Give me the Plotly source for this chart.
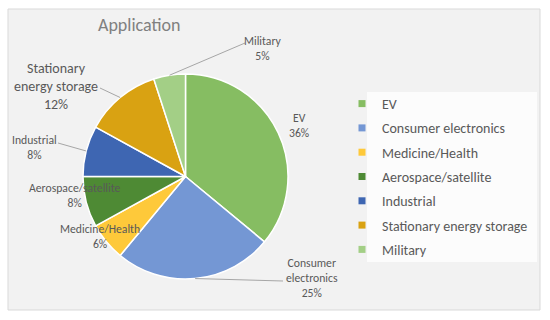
import math
import plotly.graph_objects as go

categories = ["EV", "Consumer electronics", "Medicine/Health", "Aerospace/satellite",
              "Industrial", "Stationary energy storage", "Military"]
shares = [36, 25, 6, 8, 8, 12, 5]
label_texts = ["EV", "Consumer<br>electronics", "Medicine/Health", "Aerospace/satellite",
               "Industrial", "Stationary<br>energy storage", "Military"]
colors = ["#86bd62", "#7497d4", "#fec93a", "#4e8a34", "#3e66b2", "#d9a212", "#a3cf86"]

W, H = 550, 320
CX, CY, R = 185.5, 176.5, 102.5
FONT = "Carlito, Lato, sans-serif"
TXT = "#595959"


def px(x, y):
    return x / W, 1 - y / H


# label layout (pixel positions of text block centres, optional leader elbow, font size)
label_layout = {
    "EV": dict(pos=(299, 125), elbow=None, size=11.7),
    "Consumer electronics": dict(pos=(312, 278), elbow=(283, 281), size=11.7),
    "Medicine/Health": dict(pos=(100, 236), elbow=None, size=11.7),
    "Aerospace/satellite": dict(pos=(74, 195.5), elbow=None, size=11.7),
    "Industrial": dict(pos=(35, 147.5), elbow=(58, 143), size=11.7),
    "Stationary energy storage": dict(pos=(56, 86), elbow=(100, 88), size=14),
    "Military": dict(pos=(263, 49), elbow=(245, 43), size=11.7),
}

fig = go.Figure()

x0, y0 = px(CX - R, CY + R)
x1, y1 = px(CX + R, CY - R)
fig.add_trace(go.Pie(
    labels=categories, values=shares, sort=False, direction="clockwise", rotation=0,
    marker=dict(colors=colors, line=dict(color="white", width=1.5)),
    textinfo="none", hoverinfo="label+percent", showlegend=False,
    domain=dict(x=[x0, x1], y=[y0, y1]),
))

for cat, col in zip(categories, colors):
    fig.add_trace(go.Scatter(
        x=[None], y=[None], mode="markers", name=cat, legendgroup=cat,
        marker=dict(symbol="square", size=7, color=col), showlegend=True,
    ))

shapes = [
    dict(type="rect", xref="paper", yref="paper",
         x0=px(8, 0)[0], x1=px(540, 0)[0], y0=px(0, 310)[1], y1=px(0, 9)[1],
         fillcolor="#f2f2f2", line=dict(color="#d9d9d9", width=1), layer="below"),
    dict(type="rect", xref="paper", yref="paper",
         x0=px(367, 0)[0], x1=px(537, 0)[0], y0=px(0, 262)[1], y1=px(0, 92)[1],
         fillcolor="rgba(255,255,255,0.75)", line=dict(width=0), layer="below"),
]

annotations = [dict(text="Application", x=px(139, 0)[0], y=px(0, 25)[1], xref="paper", yref="paper",
                    xanchor="center", yanchor="middle",
                    showarrow=False, font=dict(family=FONT, size=18, color="#808080"))]

total = sum(shares)
cum = 0
for cat, lab, v in zip(categories, label_texts, shares):
    mid = (cum + v / 2) / total
    cum += v
    th = 2 * math.pi * mid
    ex, ey = CX + R * math.sin(th), CY - R * math.cos(th)
    L = label_layout[cat]
    tx, ty = px(*L["pos"])
    annotations.append(dict(text=f"{lab}<br>{v}%", x=tx, y=ty, xref="paper", yref="paper",
                            xanchor="center", yanchor="middle",
                            showarrow=False, align="center",
                            font=dict(family=FONT, size=L["size"], color=TXT)))
    if L["elbow"]:
        a, b = px(ex, ey)
        c, d = px(*L["elbow"])
        shapes.append(dict(type="line", xref="paper", yref="paper", x0=a, y0=b, x1=c, y1=d,
                           line=dict(color="#a6a6a6", width=1)))

fig.update_layout(
    width=W, height=H, margin=dict(l=0, r=0, t=0, b=0),
    paper_bgcolor="white", plot_bgcolor="rgba(0,0,0,0)",
    xaxis=dict(visible=False), yaxis=dict(visible=False),
    shapes=shapes, annotations=annotations,
    legend=dict(x=px(342, 0)[0], y=px(0, 88)[1], xanchor="left", yanchor="top",
                bgcolor="rgba(0,0,0,0)", traceorder="grouped", tracegroupgap=3.1,
                font=dict(family=FONT, size=14, color=TXT)),
)

fig.write_html("out.html", config={"displayModeBar": False},
               post_script="document.body.style.margin='0';")
